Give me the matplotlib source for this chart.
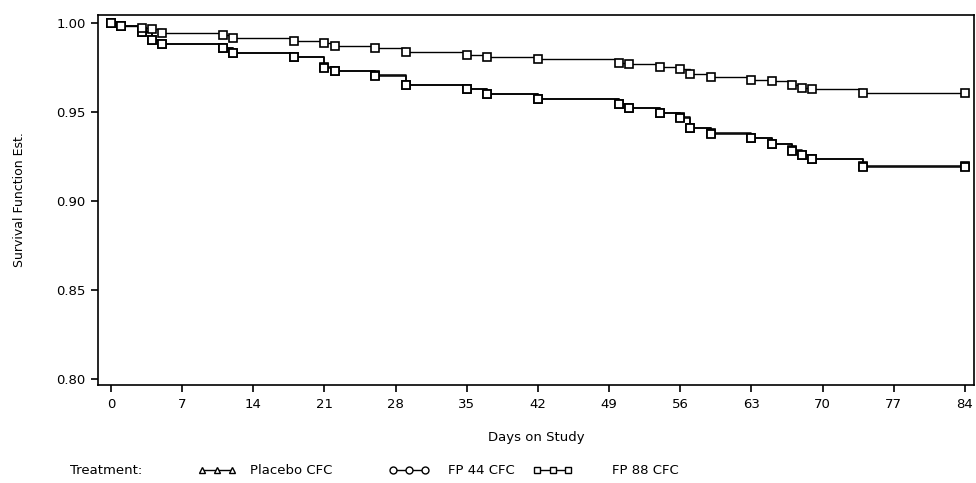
import numpy as np
import matplotlib.pyplot as plt
from matplotlib.lines import Line2D

# event days (same grid for all three curves)
days = [0, 1, 3, 4, 5, 11, 12, 18, 21, 22, 26, 29, 35, 37, 42, 50, 51, 54,
        56, 57, 59, 63, 65, 67, 68, 69, 74, 84]

surv_fp88 = [1.000, 0.9983, 0.9970, 0.9965, 0.9946, 0.9933, 0.9914, 0.9901,
             0.9886, 0.9871, 0.9860, 0.9835, 0.9820, 0.9807, 0.9796, 0.9777,
             0.9770, 0.9754, 0.9742, 0.9713, 0.9698, 0.9680, 0.9674, 0.9652,
             0.9637, 0.9628, 0.9608, 0.9608]

surv_placebo = [1.000, 0.9983, 0.9951, 0.9904, 0.9882, 0.9858, 0.9833, 0.9811,
                0.9754, 0.9732, 0.9708, 0.9652, 0.9628, 0.9601, 0.9573, 0.9545,
                0.9521, 0.9493, 0.9470, 0.9408, 0.9380, 0.9352, 0.9320, 0.9287,
                0.9258, 0.9234, 0.9197, 0.9197]

surv_fp44 = [1.000, 0.9983, 0.9951, 0.9904, 0.9882, 0.9858, 0.9833, 0.9811,
             0.9750, 0.9732, 0.9702, 0.9652, 0.9628, 0.9601, 0.9573, 0.9545,
             0.9521, 0.9493, 0.9465, 0.9408, 0.9375, 0.9352, 0.9320, 0.9282,
             0.9258, 0.9234, 0.9192, 0.9192]

treatments = ["Placebo CFC", "FP 44 CFC", "FP 88 CFC"]
legend_markers = ["^", "o", "s"]
x_ticks = list(range(0, 85, 7))
y_ticks = [0.80, 0.85, 0.90, 0.95, 1.00]

W, H = 976, 483
fig = plt.figure(figsize=(W / 100, H / 100), dpi=100)
ax = fig.add_axes([98 / W, 1 - 385 / H, (974 - 98) / W, (385 - 15) / H])

ax.plot(days, surv_placebo, drawstyle="steps-post", color="black", lw=1.1,
        marker="s", ms=5.8, mfc="black", mec="black", mew=1.2)
ax.plot(days, surv_fp44, drawstyle="steps-post", color="black", lw=1.1,
        marker="s", ms=5.8, mfc="white", mec="black", mew=1.3)
ax.plot(days, surv_fp88, drawstyle="steps-post", color="black", lw=1.0,
        marker="s", ms=5.8, mfc="white", mec="black", mew=1.2)

ax.set_xlim(-1.28, 84.9)
ax.set_ylim(0.7966, 1.0045)
ax.set_xticks(x_ticks)
ax.set_yticks(y_ticks)
ax.set_yticklabels([f"{v:.2f}" for v in y_ticks])
ax.tick_params(direction="out", length=5, width=1.2, labelsize=9.5, pad=4)
for s in ax.spines.values():
    s.set_linewidth(1.2)

ax.set_xlabel("Days on Study", fontsize=9.5, labelpad=15)
ax.set_ylabel("Survival Function Est.", fontsize=9, labelpad=22)

# legend row along the bottom
ly = 1 - 470 / H
fig.text(70 / W, ly, "Treatment:", fontsize=9.5, va="center", ha="left")
line_x = [(202, 232), (393, 425), (537, 568)]
text_x = [250, 448, 612]
for (x0, x1), tx, lab, mk in zip(line_x, text_x, treatments, legend_markers):
    xs = np.array([x0, (x0 + x1) / 2, x1]) / W
    fig.add_artist(Line2D(xs, [ly] * 3, transform=fig.transFigure,
                          color="black", lw=1.0, marker=mk, ms=5,
                          mfc="white", mec="black", mew=1.0))
    fig.text(tx / W, ly, lab, fontsize=9.5, va="center", ha="left")

fig.savefig("out.png", dpi=100)
